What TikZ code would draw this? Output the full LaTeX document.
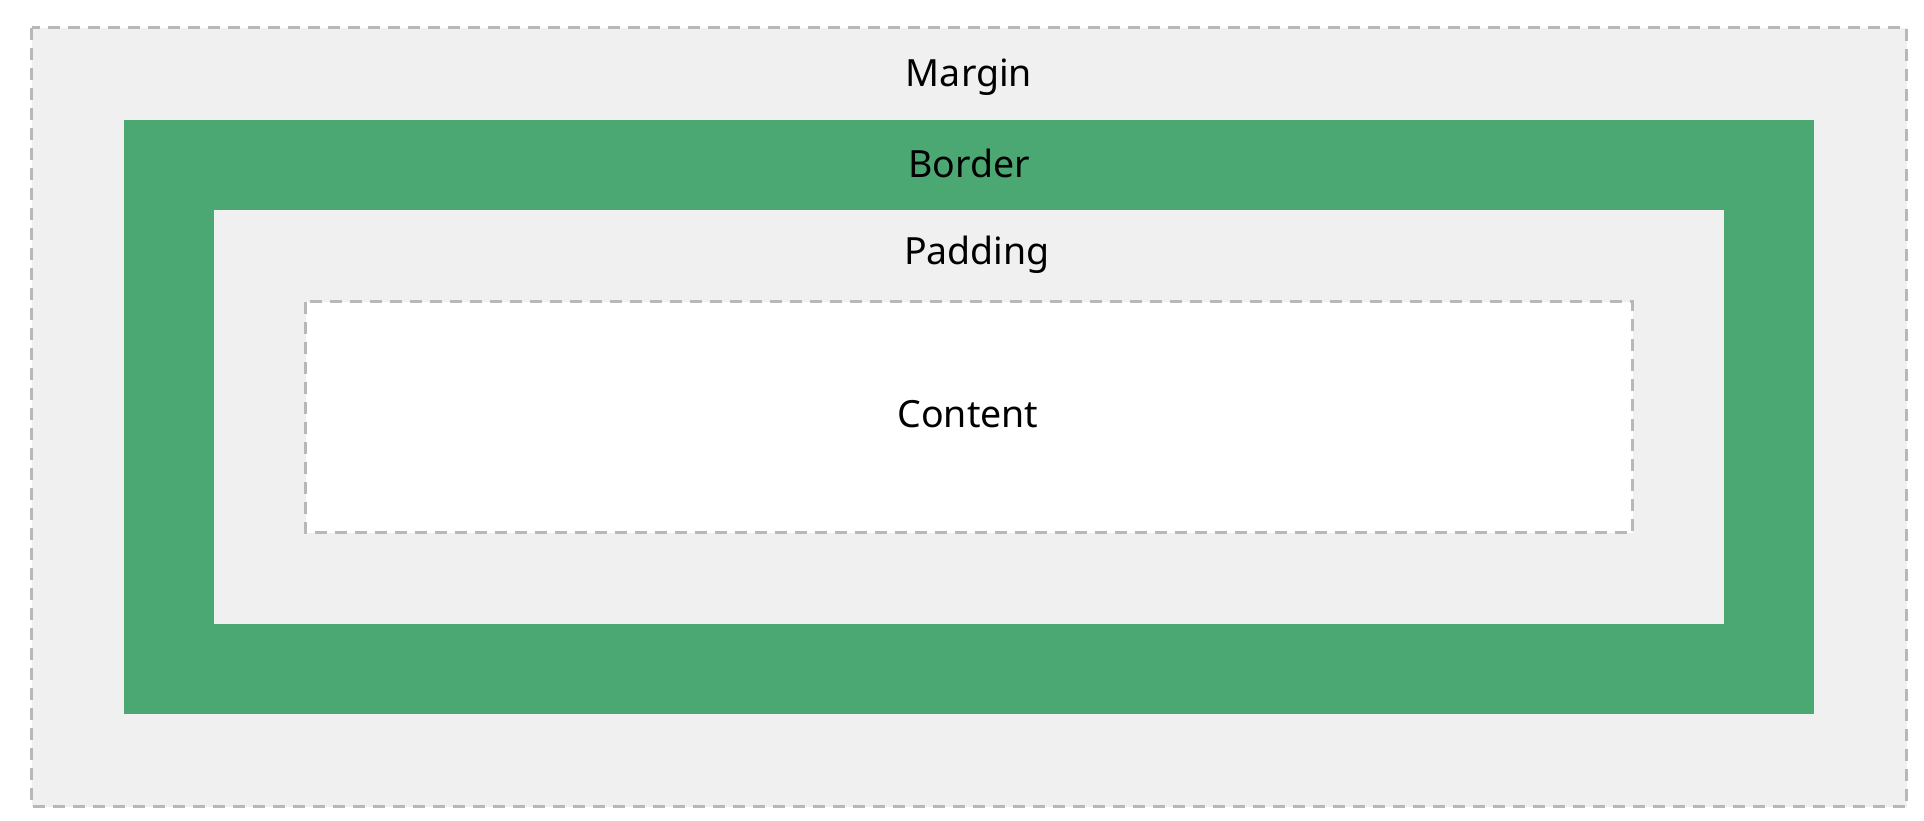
\documentclass[tikz,border=0pt]{standalone}
\usepackage{fontspec}
\setmainfont{Noto Sans}
\definecolor{boxgray}{HTML}{F0F0F0}
\definecolor{dashgray}{HTML}{B8B8B8}
\definecolor{bordergreen}{HTML}{4BA873}
\begin{document}
\begin{tikzpicture}[x=1pt,y=-1pt,
  dashbox/.style={draw=dashgray,line width=3.5pt,dash pattern=on 12pt off 8pt},
  lbl/.style={anchor=base,inner sep=0pt,font=\fontsize{37.5}{44}\selectfont}]
\useasboundingbox[fill=white] (0,0) rectangle (1924,820);
% margin
\path[fill=boxgray,dashbox] (31.5,27.5) rectangle (1906.5,806.5);
% border
\fill[bordergreen] (124,120) rectangle (1814,714);
% padding
\fill[boxgray] (214,210) rectangle (1724,624);
% content
\path[fill=white,dashbox] (305.5,301.5) rectangle (1632.5,532.5);
\node[lbl] (margin) at (969,86) {Margin};
\node[lbl] (border) at (969,177) {Border};
\node[lbl] (padding) at (977,264) {Padding};
\node[lbl] (content) at (968,427) {Content};
\end{tikzpicture}
\end{document}
